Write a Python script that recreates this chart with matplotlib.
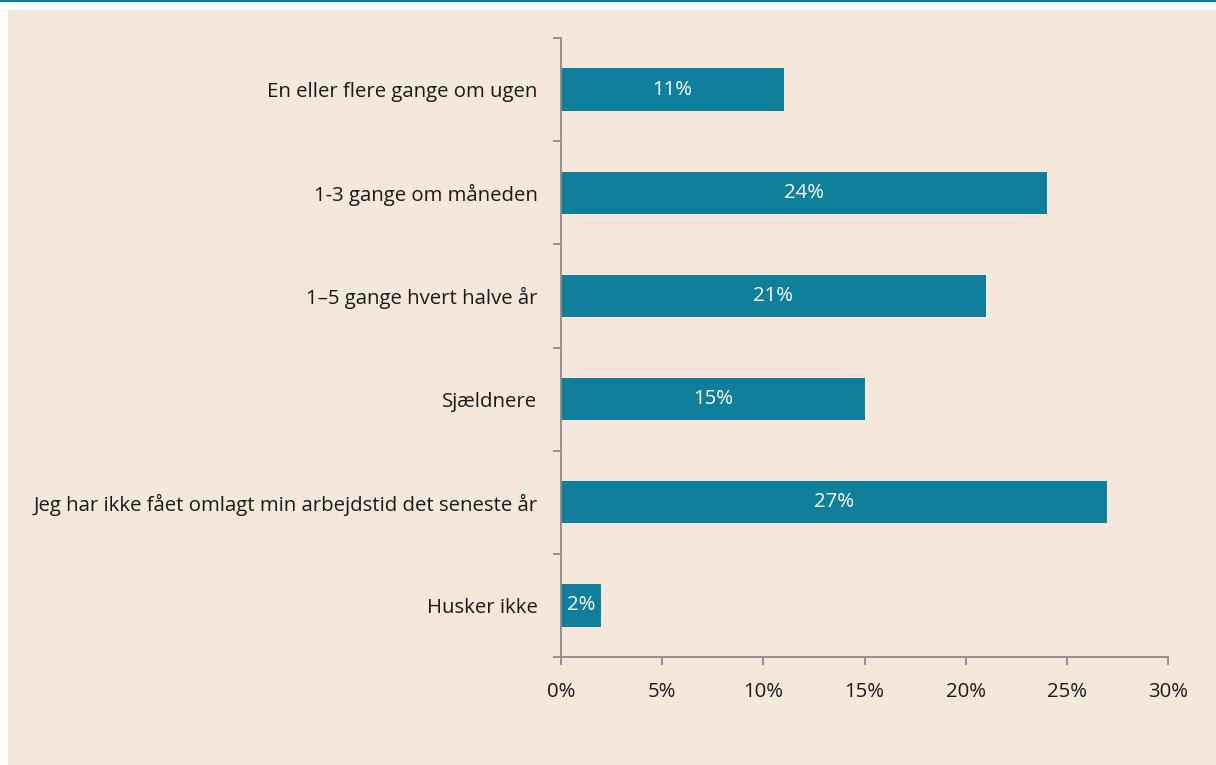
import numpy as np
import matplotlib.pyplot as plt
from matplotlib.patches import Rectangle
from matplotlib.lines import Line2D
from matplotlib.ticker import FixedLocator, FuncFormatter

categories = [
    "En eller flere gange om ugen",
    "1-3 gange om måneden",
    "1–5 gange hvert halve år",
    "Sjældnere",
    "Jeg har ikke fået omlagt min arbejdstid det seneste år",
    "Husker ikke",
]
values = [11, 24, 21, 15, 27, 2]
xticks = [0, 5, 10, 15, 20, 25, 30]

bar_color = "#107F9C"
bg_color = "#F5E8DB"
axis_color = "#8C8C8C"
fs = 14.7

plt.rcParams["font.family"] = ["Open Sans", "DejaVu Sans"]

fig = plt.figure(figsize=(12.16, 7.65), dpi=100)
fig.patch.set_facecolor("white")

# beige panel and teal rule on top
fig.add_artist(Rectangle((8 / 1216, 0), 1 - 8 / 1216, 1 - 10 / 765,
                         transform=fig.transFigure, facecolor=bg_color,
                         edgecolor="none", zorder=0))
fig.add_artist(Line2D([0, 1], [1 - 1 / 765, 1 - 1 / 765], transform=fig.transFigure,
                      color="#0B7F99", linewidth=1.6, zorder=1))

ax = fig.add_axes([561 / 1216, 1 - 657 / 765, (1168 - 561) / 1216, (657 - 38) / 765])
ax.set_facecolor("none")

y = np.arange(len(categories))
ax.barh(y, values, height=0.41, color=bar_color, zorder=2)
for yi, v in zip(y, values):
    ax.text(v / 2, yi, f"{v}%", ha="center", va="center", color="white",
            fontsize=fs, zorder=3)

ax.set_xlim(0, 30)
ax.set_ylim(len(categories) - 0.5, -0.5)
ax.set_yticks(y)
ax.set_yticklabels(categories, fontsize=fs, color="#1a1a1a")
ax.tick_params(axis="y", which="major", length=0, pad=17)
ax.yaxis.set_minor_locator(FixedLocator(np.arange(-0.5, len(categories), 1.0)))
ax.tick_params(axis="y", which="minor", length=6, width=1.3, color=axis_color)

ax.set_xticks(xticks)
ax.xaxis.set_major_formatter(FuncFormatter(lambda v, p: f"{v:.0f}%"))
ax.tick_params(axis="x", length=6, width=1.3, color=axis_color, labelsize=fs,
               labelcolor="#1a1a1a", pad=12)

for s in ["top", "right"]:
    ax.spines[s].set_visible(False)
for s in ["left", "bottom"]:
    ax.spines[s].set_color(axis_color)
    ax.spines[s].set_linewidth(1.3)

fig.savefig("out.png", dpi=100)
